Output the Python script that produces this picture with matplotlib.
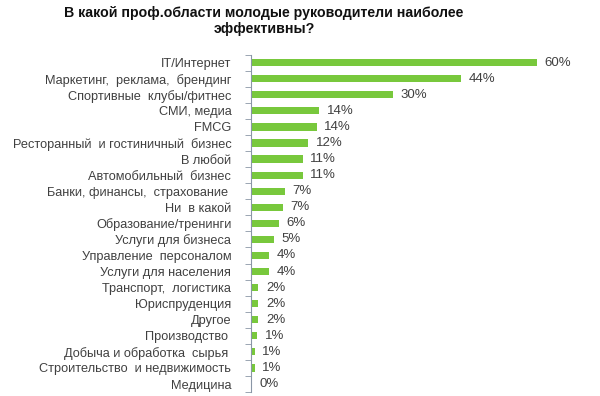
import matplotlib
matplotlib.use("Agg")
import matplotlib.pyplot as plt
import numpy as np

plt.rcParams['font.family'] = ['Liberation Sans', 'DejaVu Sans']

title = "В какой проф.области молодые руководители наиболее\nэффективны?"

categories = [
    "IT/Интернет",
    "Маркетинг,  реклама,  брендинг",
    "Спортивные  клубы/фитнес",
    "СМИ, медиа",
    "FMCG",
    "Ресторанный  и гостиничный  бизнес",
    "В любой",
    "Автомобильный  бизнес",
    "Банки, финансы,  страхование ",
    "Ни  в какой",
    "Образование/тренинги",
    "Услуги для бизнеса",
    "Управление  персоналом",
    "Услуги для населения",
    "Транспорт,  логистика",
    "Юриспруденция",
    "Другое",
    "Производство ",
    "Добыча и обработка  сырья ",
    "Строительство  и недвижимость",
    "Медицина",
]
# bar lengths (percent)
values = [60.0, 44.2, 29.8, 14.3, 13.8, 12.0, 10.9, 10.9, 7.1, 6.7, 5.9,
          4.8, 3.8, 3.8, 1.6, 1.6, 1.6, 1.3, 0.8, 0.8, 0.2]
value_labels = ["60%", "44%", "30%", "14%", "14%", "12%", "11%", "11%", "7%",
                "7%", "6%", "5%", "4%", "4%", "2%", "2%", "2%", "1%", "1%",
                "1%", "0%"]

fig = plt.figure(figsize=(6, 3.96), dpi=100)
ax = fig.add_axes([0.418, 0.01, 0.556, 0.852])

y = np.arange(len(categories))
ax.barh(y, values, height=0.45, color='#78c83c')
ax.set_ylim(len(categories) - 0.5, -0.5)
ax.set_xlim(0, 70)

for yi, v, lab in zip(y, values, value_labels):
    ax.text(v + 1.6, yi, lab, va='center', ha='left', fontsize=9.5,
            color='#404040')

ax.set_yticks(y)
ax.set_yticklabels(categories, fontsize=9.2, color='#404040')
ax.tick_params(axis='y', which='major', length=0, pad=14)
ax.set_yticks(np.arange(-0.5, len(categories), 1), minor=True)
ax.tick_params(axis='y', which='minor', length=4, color='#8a96a6',
               direction='out')
ax.set_xticks([])
for s in ['top', 'right', 'bottom']:
    ax.spines[s].set_visible(False)
ax.spines['left'].set_color('#8a96a6')
ax.spines['left'].set_linewidth(0.8)

fig.text(0.44, 0.985, title, ha='center', va='top', fontsize=10.2,
         fontweight='bold', color='#111111', linespacing=1.2)

fig.savefig('out.png', dpi=100)
